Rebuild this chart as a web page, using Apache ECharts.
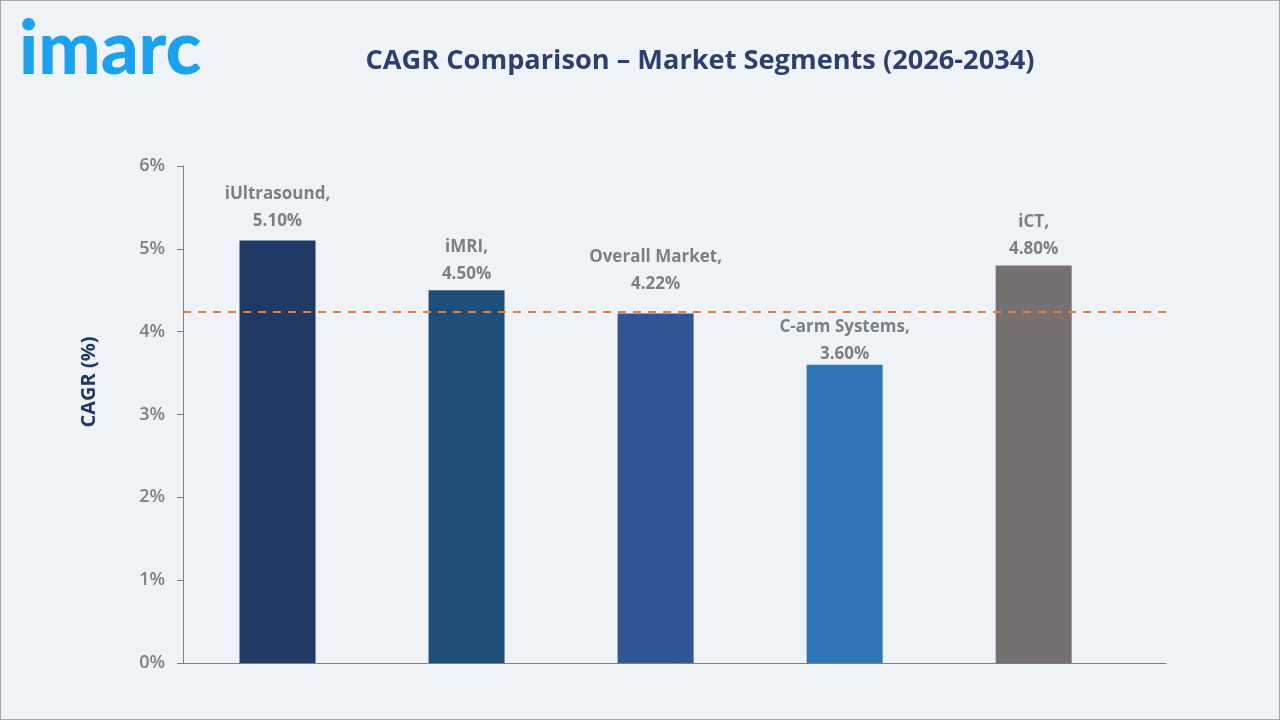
<!DOCTYPE html>
<html>
<head>
<meta charset="utf-8">
<title>CAGR Comparison</title>
<script src="https://cdn.jsdelivr.net/npm/echarts@6/dist/echarts.min.js"></script>
<style>
html,body{margin:0;padding:0;background:#eff3f8;}
#main{width:1278px;height:718px;border:1px solid #a6a6a6;}
</style>
</head>
<body>
<div id="main"></div>
<script>
var categories = ['iUltrasound', 'iMRI', 'Overall Market', 'C-arm Systems', 'iCT'];
var cagr = [5.10, 4.50, 4.22, 3.60, 4.80];
var barColors = ['#1f3864', '#1f4e79', '#2f5597', '#2e75b6', '#767171'];
var refLine = 4.24;
var yTicks = [0, 1, 2, 3, 4, 5, 6];

var myChart = echarts.init(document.getElementById('main'));
// labels were hand-placed in the original, gap above each bar differs
var labelGap = [6, 3, 16, -3, 3];
var option = {
    backgroundColor: '#eff3f8',
    textStyle: { fontFamily: 'Open Sans' },
    title: {
        text: 'CAGR Comparison \u2013 Market Segments (2026-2034)',
        left: 694, top: 42, textAlign: 'center',
        textStyle: { fontSize: 27.2, fontWeight: 'bold', color: '#2e3f6e', fontFamily: 'Open Sans' }
    },
    graphic: [{
        type: 'text', left: 18, top: 12,
        style: { text: 'imarc', fontSize: 74, fontWeight: 900, fill: '#1ba1ee', fontFamily: 'Lato, sans-serif' }
    }, {
        type: 'text', x: 88, y: 381, rotation: Math.PI / 2,
        style: { text: 'CAGR (%)', fontSize: 20, fontWeight: 'bold', fill: '#1f3864', fontFamily: 'Open Sans',
                 align: 'center', verticalAlign: 'middle' }
    }],
    grid: { left: 182, right: 113, top: 165, bottom: 56 },
    xAxis: {
        type: 'value',
        min: -0.5, max: 4.7,
        axisLine: { show: true, onZero: false, lineStyle: { color: '#808080', width: 1 } },
        axisTick: { show: false },
        axisLabel: { show: false },
        splitLine: { show: false }
    },
    yAxis: {
        type: 'value',
        min: yTicks[0], max: yTicks[yTicks.length - 1], interval: 1,
        axisLine: { show: true, onZero: false, lineStyle: { color: '#808080' } },
        axisTick: { show: true, length: 6, lineStyle: { color: '#808080' } },
        splitLine: { show: false },
        axisLabel: { formatter: '{value}%', fontSize: 18, fontWeight: 600, color: '#7f7f7f', margin: 18 }
    },
    series: [{
        type: 'bar',
        barWidth: 76,
        data: cagr.map(function (v, i) {
            return { value: [i, v], itemStyle: { color: barColors[i] }, label: { distance: labelGap[i] } };
        }),
        label: {
            show: true, position: 'top',
            formatter: function (p) { return categories[p.dataIndex] + ',\n' + p.value[1].toFixed(2) + '%'; },
            fontSize: 17, fontWeight: 'bold', color: '#7f7f7f', lineHeight: 27
        },
        markLine: {
            silent: true, symbol: 'none',
            label: { show: false },
            lineStyle: { color: '#e0803a', type: [8, 7], width: 2 },
            data: [{ yAxis: refLine }]
        }
    }]
};
myChart.setOption(option);
</script>
</body>
</html>
